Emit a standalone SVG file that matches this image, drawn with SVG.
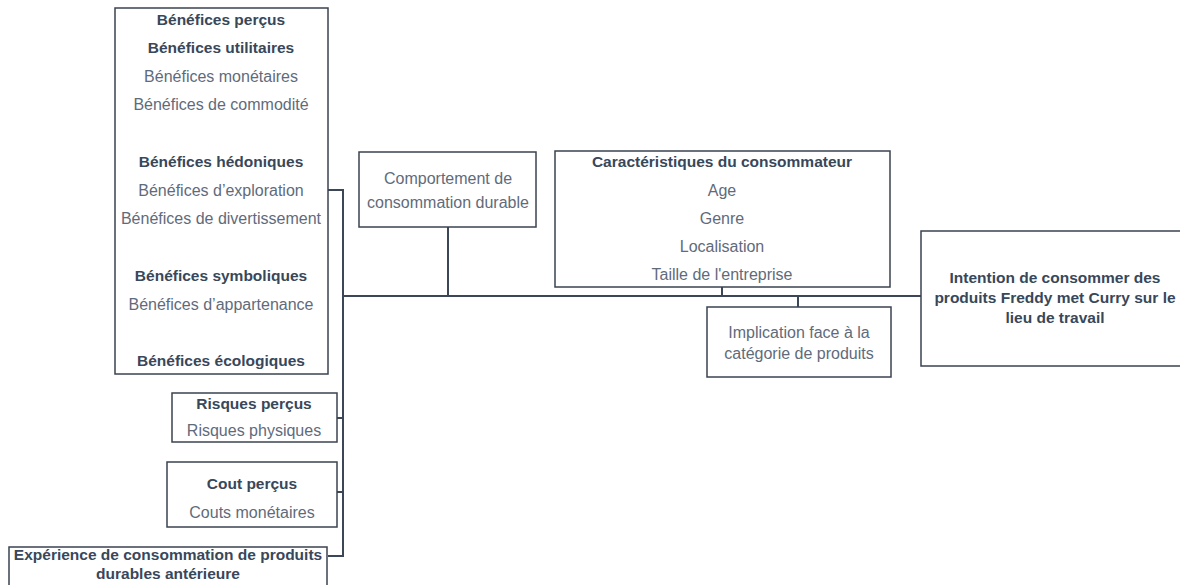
<svg xmlns="http://www.w3.org/2000/svg" width="1180" height="585" viewBox="0 0 1180 585">
<style>
.box{fill:#fff;stroke:#3a4350;stroke-width:1.5}
.con{fill:none;stroke:#3b4757;stroke-width:2}
text{font-family:"Liberation Sans",Arial,sans-serif;text-anchor:middle}
.b{font-weight:bold;font-size:15.5px;fill:#38475a}
.r{font-size:16px;fill:#5f6b7b}
</style>
<rect width="1180" height="585" fill="#fff"/>
<g id="connectors">
<polyline class="con" points="328,190 343,190 343,556 328,556"/>
<line class="con" x1="337" y1="418" x2="343" y2="418"/>
<line class="con" x1="337" y1="492" x2="343" y2="492"/>
<line class="con" x1="343" y1="296" x2="921" y2="296"/>
<line class="con" x1="448" y1="227" x2="448" y2="296"/>
<line class="con" x1="722" y1="287" x2="722" y2="296"/>
<line class="con" x1="798" y1="296" x2="798" y2="307"/>
</g>
<g id="benefices">
<rect class="box" x="115" y="8" width="213" height="366"/>
<text class="b" x="221" y="25">Bénéfices perçus</text>
<text class="b" x="221" y="53">Bénéfices utilitaires</text>
<text class="r" x="221" y="82">Bénéfices monétaires</text>
<text class="r" x="221" y="110">Bénéfices de commodité</text>
<text class="b" x="221" y="167">Bénéfices hédoniques</text>
<text class="r" x="221" y="196">Bénéfices d’exploration</text>
<text class="r" x="221" y="224">Bénéfices de divertissement</text>
<text class="b" x="221" y="281">Bénéfices symboliques</text>
<text class="r" x="221" y="310">Bénéfices d’appartenance</text>
<text class="b" x="221" y="366">Bénéfices écologiques</text>
</g>
<g id="risques">
<rect class="box" x="172" y="393" width="165" height="49"/>
<text class="b" x="254" y="409">Risques perçus</text>
<text class="r" x="254" y="436">Risques physiques</text>
</g>
<g id="cout">
<rect class="box" x="167" y="462" width="170" height="65"/>
<text class="b" x="252" y="489">Cout perçus</text>
<text class="r" x="252" y="518">Couts monétaires</text>
</g>
<g id="experience">
<rect class="box" x="9" y="547" width="318" height="50"/>
<text class="b" x="168" y="560">Expérience de consommation de produits</text>
<text class="b" x="168" y="579">durables antérieure</text>
</g>
<g id="comportement">
<rect class="box" x="359" y="152" width="177" height="75"/>
<text class="r" x="448" y="184">Comportement de</text>
<text class="r" x="448" y="208">consommation durable</text>
</g>
<g id="caracteristiques">
<rect class="box" x="555" y="151" width="335" height="136"/>
<text class="b" x="722" y="167">Caractéristiques du consommateur</text>
<text class="r" x="722" y="196">Age</text>
<text class="r" x="722" y="224">Genre</text>
<text class="r" x="722" y="252">Localisation</text>
<text class="r" x="722" y="280">Taille de l'entreprise</text>
</g>
<g id="implication">
<rect class="box" x="707" y="307" width="184" height="70"/>
<text class="r" x="799" y="338">Implication face à la</text>
<text class="r" x="799" y="359">catégorie de produits</text>
</g>
<g id="intention">
<rect class="box" x="921" y="231" width="270" height="135"/>
<text class="b" x="1055" y="283">Intention de consommer des</text>
<text class="b" x="1055" y="303">produits Freddy met Curry sur le</text>
<text class="b" x="1055" y="323">lieu de travail</text>
</g>
</svg>
